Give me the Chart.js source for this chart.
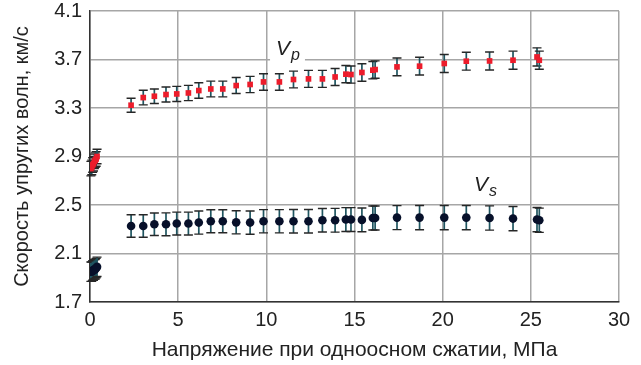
<!DOCTYPE html>
<html>
<head>
<meta charset="utf-8">
<script src="https://cdn.jsdelivr.net/npm/chart.js@4"></script>
<style>
  body { margin: 0; background: #fff; }
  #wrap { width: 641px; height: 365px; }
</style>
</head>
<body>
<div id="wrap"><canvas id="velocity" width="641" height="365"></canvas></div>
<script>
// low stress cluster (near zero load)
var stress_low = [0.05, 0.1, 0.15, 0.2, 0.25, 0.3, 0.35, 0.4];
var vp_low = [2.80, 2.81, 2.83, 2.84, 2.86, 2.87, 2.88, 2.90];
var vp_low_err = [0.06, 0.06, 0.06, 0.06, 0.06, 0.06, 0.06, 0.06];
var vs_low = [1.95, 1.95, 1.96, 1.96, 1.97, 1.97, 1.98, 1.99];
var vs_low_err = [0.08, 0.08, 0.08, 0.08, 0.08, 0.08, 0.08, 0.08];

// main loading run, MPa
var stress = [2.33, 3.02, 3.65, 4.31, 4.92, 5.58, 6.17, 6.85, 7.53, 8.29,
  9.08, 9.84, 10.74, 11.54, 12.39, 13.18, 13.9, 14.51, 14.8, 15.42,
  16.04, 16.17, 17.41, 18.69, 20.09, 21.34, 22.66, 23.99, 25.35, 25.48];
var vp = [3.323, 3.386, 3.397, 3.411, 3.416, 3.424, 3.444, 3.457, 3.457, 3.485,
  3.494, 3.515, 3.515, 3.535, 3.54, 3.54, 3.556, 3.579, 3.576, 3.593,
  3.612, 3.617, 3.639, 3.645, 3.667, 3.686, 3.688, 3.694, 3.721, 3.694];
var vp_err = [0.058, 0.06, 0.06, 0.062, 0.062, 0.063, 0.064, 0.065, 0.065, 0.066,
  0.067, 0.068, 0.068, 0.069, 0.07, 0.07, 0.07, 0.071, 0.071, 0.072,
  0.072, 0.072, 0.073, 0.073, 0.074, 0.074, 0.074, 0.075, 0.075, 0.075];
var vs = [2.327, 2.327, 2.341, 2.341, 2.347, 2.347, 2.355, 2.366, 2.366, 2.357,
  2.355, 2.366, 2.366, 2.366, 2.366, 2.374, 2.374, 2.38, 2.38, 2.377,
  2.393, 2.393, 2.396, 2.396, 2.396, 2.396, 2.393, 2.388, 2.38, 2.374];
var vs_err = [0.093, 0.093, 0.093, 0.094, 0.094, 0.094, 0.095, 0.095, 0.095, 0.095,
  0.096, 0.096, 0.096, 0.097, 0.097, 0.097, 0.098, 0.098, 0.098, 0.098,
  0.099, 0.099, 0.099, 0.1, 0.1, 0.1, 0.1, 0.1, 0.1, 0.1];

// axis ticks
var x_ticks = [0, 5, 10, 15, 20, 25, 30];
var y_ticks = [1.7, 2.1, 2.5, 2.9, 3.3, 3.7, 4.1];

// series labels: text, subscript, position in data units
var series_labels = [
  { main: "V", sub: "p", x: 11.2, y: 3.80, box: true },
  { main: "V", sub: "s", x: 22.4, y: 2.68, box: false }
];

function points(xs, ys, errs) {
  var out = [];
  for (var i = 0; i < xs.length; i++) {
    out.push({ x: xs[i], y: ys[i], err: errs[i] });
  }
  return out;
}

var RED = "#ec1c2b";
var DARK = "#07102a";
var font_family = "'Liberation Sans', Arial, sans-serif";

// error bars go under the markers
var errorBars = {
  id: "errorBars",
  beforeDatasetsDraw: function (chart) {
    var ctx = chart.ctx;
    var xs = chart.scales.x, ys = chart.scales.y;
    ctx.save();
    chart.data.datasets.forEach(function (ds) {
      ds.data.forEach(function (p) {
        var px = xs.getPixelForValue(p.x);
        var top = ys.getPixelForValue(p.y + p.err);
        var bot = ys.getPixelForValue(p.y - p.err);
        ctx.strokeStyle = "#1f5560";
        ctx.lineWidth = 1.7;
        ctx.beginPath();
        ctx.moveTo(px, top);
        ctx.lineTo(px, bot);
        ctx.stroke();
        ctx.strokeStyle = "#262626";
        ctx.lineWidth = 1.4;
        ctx.beginPath();
        ctx.moveTo(px - 4.5, top);
        ctx.lineTo(px + 4.5, top);
        ctx.moveTo(px - 4.5, bot);
        ctx.lineTo(px + 4.5, bot);
        ctx.stroke();
      });
    });
    ctx.restore();
  }
};

// Vp / Vs captions
var seriesLabels = {
  id: "seriesLabels",
  afterDraw: function (chart) {
    var ctx = chart.ctx;
    var xs = chart.scales.x, ys = chart.scales.y;
    ctx.save();
    series_labels.forEach(function (l) {
      var px = xs.getPixelForValue(l.x);
      var py = ys.getPixelForValue(l.y);
      ctx.font = "italic 21px " + font_family;
      var w1 = ctx.measureText(l.main).width;
      ctx.font = "italic 16px " + font_family;
      var w2 = ctx.measureText(l.sub).width;
      var left = px - (w1 + w2) / 2;
      if (l.box) {
        ctx.fillStyle = "#fff";
        ctx.fillRect(left - 6, py - 12, w1 + w2 + 12, 27);
      }
      ctx.fillStyle = "#222";
      ctx.textBaseline = "alphabetic";
      ctx.textAlign = "left";
      ctx.font = "italic 21px " + font_family;
      ctx.fillText(l.main, left, py + 8);
      ctx.font = "italic 16px " + font_family;
      ctx.fillText(l.sub, left + w1 + 1, py + 13);
    });
    ctx.restore();
  }
};

var chart = new Chart(document.getElementById("velocity"), {
  type: "scatter",
  data: {
    datasets: [
      { data: points(stress_low, vp_low, vp_low_err), pointStyle: "rect", radius: 4,
        backgroundColor: RED, borderColor: RED, borderWidth: 0 },
      { data: points(stress, vp, vp_err), pointStyle: "rect", radius: 4,
        backgroundColor: RED, borderColor: RED, borderWidth: 0 },
      { data: points(stress_low, vs_low, vs_low_err), pointStyle: "circle", radius: 4.3,
        backgroundColor: DARK, borderColor: DARK, borderWidth: 0 },
      { data: points(stress, vs, vs_err), pointStyle: "circle", radius: 4.3,
        backgroundColor: DARK, borderColor: DARK, borderWidth: 0 }
    ]
  },
  options: {
    responsive: false,
    animation: false,
    layout: { padding: { top: 11, right: 22, left: 0, bottom: 0 } },
    plugins: {
      legend: { display: false },
      tooltip: { enabled: false }
    },
    scales: {
      x: {
        type: "linear",
        min: x_ticks[0],
        max: x_ticks[x_ticks.length - 1],
        afterBuildTicks: function (scale) {
          scale.ticks = x_ticks.map(function (v) { return { value: v }; });
        },
        afterFit: function (scale) { scale.height = 63; },
        grid: { color: "#a6a6a6", lineWidth: 1.5, drawTicks: false },
        border: { color: "#333", width: 1.5 },
        ticks: { color: "#222", padding: 6, font: { family: font_family, size: 20 } },
        title: {
          display: true,
          text: "Напряжение при одноосном сжатии, МПа",
          color: "#222",
          padding: { top: 4, bottom: 2 },
          font: { family: font_family, size: 21 }
        }
      },
      y: {
        type: "linear",
        min: y_ticks[0],
        max: y_ticks[y_ticks.length - 1],
        afterBuildTicks: function (scale) {
          scale.ticks = y_ticks.map(function (v) { return { value: v }; });
        },
        afterFit: function (scale) {
          scale.width = 90;
          // let the top tick label stick out above the plot area
          scale.paddingTop = 0;
          scale.paddingBottom = 0;
        },
        grid: { color: "#a6a6a6", lineWidth: 1.5, drawTicks: false },
        border: { color: "#333", width: 1.5 },
        ticks: {
          color: "#222", padding: 8, font: { family: font_family, size: 20 },
          callback: function (v) { return v.toFixed(1); }
        },
        title: {
          display: true,
          text: "Скорость упругих волн, км/с",
          color: "#222",
          padding: { top: 10, bottom: 2 },
          font: { family: font_family, size: 20 }
        }
      }
    }
  },
  plugins: [errorBars, seriesLabels]
});
</script>
</body>
</html>
